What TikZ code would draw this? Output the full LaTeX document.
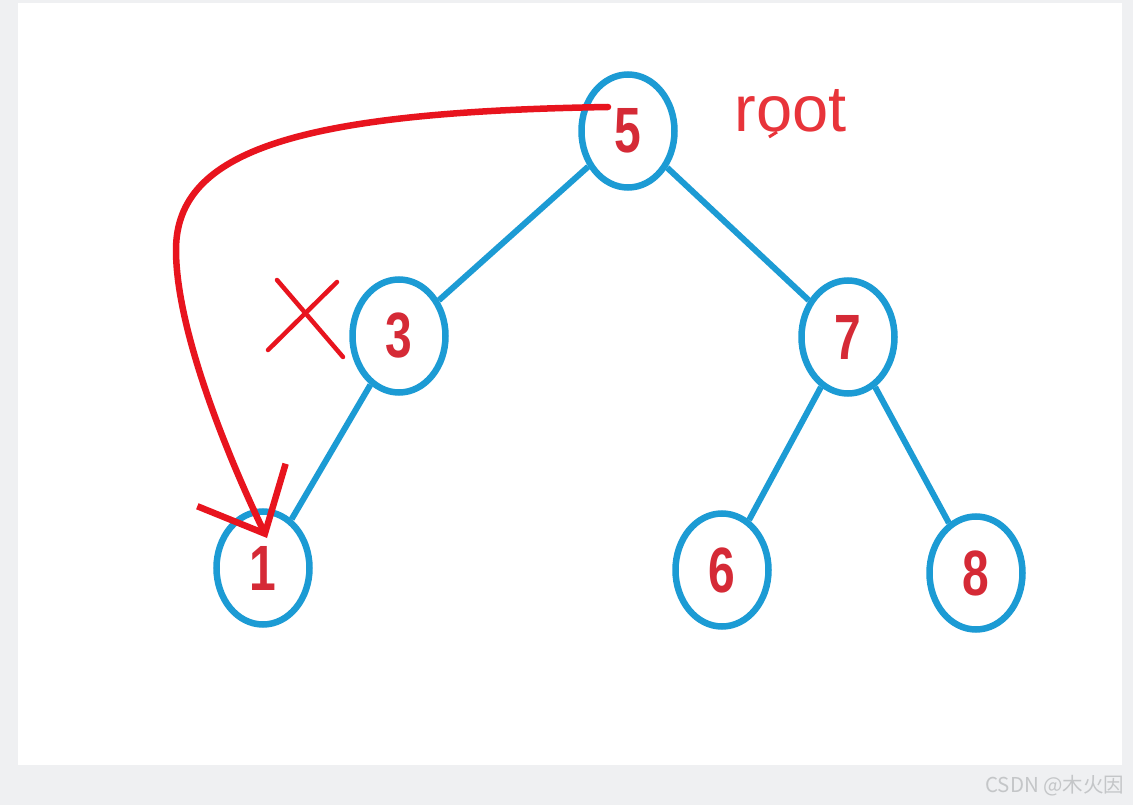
\documentclass[tikz,border=0pt]{standalone}
\usepackage{fontspec}
\setmainfont{Liberation Sans}
\newfontfamily\cjkfont{Noto Sans CJK SC}
\usetikzlibrary{arrows.meta,shapes.geometric,calc}
\definecolor{treeblue}{HTML}{1C9BD4}
\definecolor{numred}{HTML}{D52A36}
\definecolor{penred}{HTML}{E8141E}
\definecolor{rootred}{HTML}{E8343A}
\definecolor{pagegray}{HTML}{EFF0F2}
\definecolor{wmgray}{HTML}{C4C6C8}
\newcommand{\digit}[1]{\scalebox{0.75}[1]{#1}}

\begin{document}
\begin{tikzpicture}[x=1pt,y=-1pt,
  vertex/.style={ellipse,draw=treeblue,line width=6.5pt,fill=white,
    minimum width=93pt,minimum height=113pt,inner sep=0pt,
    font=\fontsize{64}{64}\selectfont\bfseries,text=numred},
  edge/.style={treeblue,line width=6pt},
  pen/.style={penred,line width=6.5pt,line cap=round,line join=round}]
\useasboundingbox (0,0) rectangle (1133,805);
\fill[pagegray] (0,0) rectangle (1133,805);
\fill[white] (18,3) rectangle (1122,765);

% tree
\node[vertex] (n5) at (628,131) {\digit{5}};
\node[vertex] (n3) at (399,336) {\digit{3}};
\node[vertex] (n7) at (848,337) {\digit{7}};
\node[vertex] (n1) at (263,568) {\digit{1}};
\node[vertex] (n6) at (722,570) {\digit{6}};
\node[vertex] (n8) at (976,573) {\digit{8}};

\draw[edge] (n5) -- (n3);
\draw[edge] (n5) -- (n7);
\draw[edge] (n3) -- (n1);
\draw[edge] (n7) -- (n6);
\draw[edge] (n7) -- (n8);

\node[anchor=base west,text=rootred,font=\fontsize{65}{65}\selectfont] (rootlbl) at (731,132) {root};
\draw[rootred,line width=3pt] (769,137) -- (777,132);

% pen marks
\coordinate (arrStart) at ($(n5.center)+(-20,-24)$);
\coordinate (arrTip) at ($(n1.center)+(4,-30)$);
\draw[pen,-{Straight Barb[length=54pt,width=98pt]}] (arrStart)
  .. controls (300,112) and (176,150) .. (176,250)
  .. controls (176,330) and (228,457) .. (arrTip);

\draw[pen,line width=4.5pt] (277,280) -- (343,357);
\draw[pen,line width=4.5pt] (337,282) -- (268,350);

\node[anchor=base east,text=wmgray,font=\cjkfont\fontsize{20.5}{20.5}\selectfont] (mark) at (1128,792) {CSDN @木火因};
\end{tikzpicture}
\end{document}
